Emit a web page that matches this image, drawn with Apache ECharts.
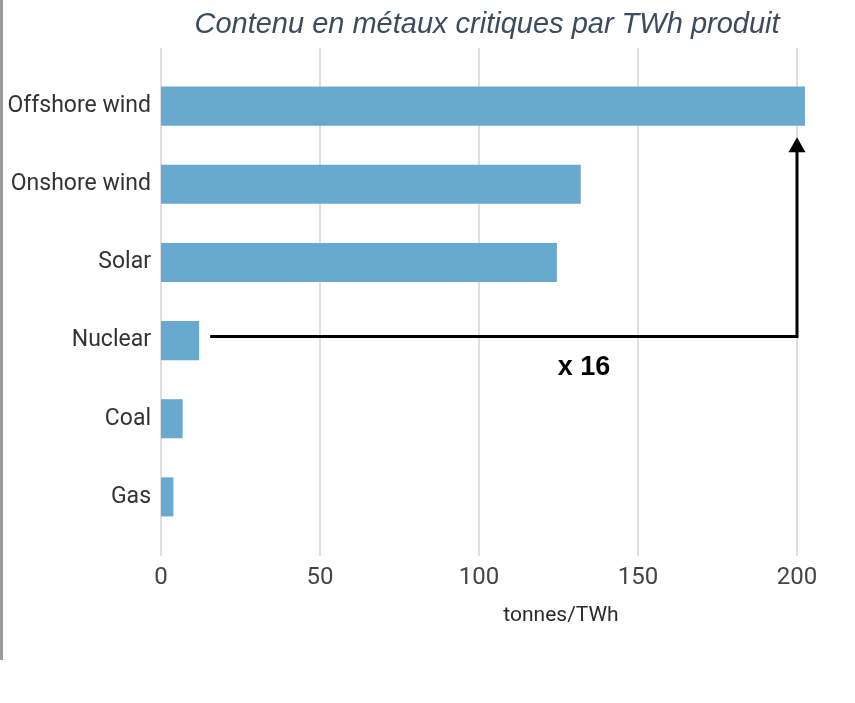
<!DOCTYPE html>
<html>
<head>
<meta charset="utf-8">
<script src="https://cdn.jsdelivr.net/npm/echarts@6/dist/echarts.min.js"></script>
<style>
html,body{margin:0;padding:0;background:#fff;}
#chart{width:855px;height:703px;}
</style>
</head>
<body>
<div id="chart"></div>
<script>
var categories = ['Offshore wind', 'Onshore wind', 'Solar', 'Nuclear', 'Coal', 'Gas'];
var values = [202.5, 132, 124.5, 12, 6.8, 3.9];
var xTicks = [0, 50, 100, 150, 200];
var titleText = 'Contenu en métaux critiques par TWh produit';
var unitText = 'tonnes/TWh';
var arrowFrom = 'Nuclear';
var arrowTo = 'Offshore wind';
var arrowLabel = 'x 16';

var chart = echarts.init(document.getElementById('chart'), null, {renderer: 'canvas'});

var fromIdx = categories.indexOf(arrowFrom);
var toIdx = categories.indexOf(arrowTo);
var xMax = xTicks[xTicks.length - 1];

var option = {
  backgroundColor: '#ffffff',
  animation: false,
  grid: [
    {left: 161, right: 58, top: 48, height: 508},
    {left: 161, right: 58, top: 67, height: 469}
  ],
  xAxis: [
    {
      gridIndex: 0, type: 'value', min: xTicks[0], max: xMax, interval: 50,
      axisLine: {show: false}, axisTick: {show: false},
      splitLine: {show: true, lineStyle: {color: '#d4d4d4', width: 1.5}},
      axisLabel: {fontFamily: 'Roboto', fontSize: 24, color: '#444', margin: 10}
    },
    {
      gridIndex: 1, type: 'value', min: xTicks[0], max: xMax,
      show: false
    }
  ],
  yAxis: [
    {gridIndex: 0, type: 'value', show: false, min: 0, max: 1},
    {
      gridIndex: 1, type: 'category', data: categories, inverse: true,
      axisLine: {show: false}, axisTick: {show: false},
      axisLabel: {fontFamily: 'Roboto', fontSize: 23, color: '#333', margin: 10}
    }
  ],
  graphic: [
    {
      type: 'rect', left: 0, top: 0,
      shape: {x: 0, y: 0, width: 3, height: 660},
      style: {fill: '#9a9a9a'}
    },
    {
      type: 'text', x: 487, y: 25,
      style: {
        text: titleText, textAlign: 'center', textVerticalAlign: 'middle',
        font: 'italic 29px "Liberation Sans", Arial, sans-serif', fill: '#3c4b60'
      }
    },
    {
      type: 'text', x: 561, y: 616,
      style: {
        text: unitText, textAlign: 'center', textVerticalAlign: 'middle',
        font: '21px Roboto, sans-serif', fill: '#2a2a2a'
      }
    }
  ],
  series: [
    {
      type: 'bar', xAxisIndex: 1, yAxisIndex: 1,
      data: values, barWidth: '50%', clip: false,
      itemStyle: {color: '#6aa9cf'},
      silent: true
    },
    {
      type: 'custom', xAxisIndex: 1, yAxisIndex: 1,
      data: [[values[fromIdx], fromIdx, xMax, toIdx]],
      encode: {x: [0, 2], y: [1, 3]},
      silent: true, z: 10, clip: false,
      renderItem: function (params, api) {
        var pStart = api.coord([api.value(0), api.value(1)]);
        var pCorner = api.coord([api.value(2), api.value(1)]);
        var pTarget = api.coord([api.value(2), api.value(3)]);
        var band = api.size([0, 1])[1];
        var y = pCorner[1] - 4;
        var x = pCorner[0];
        var tipY = pTarget[1] + band * 0.4;
        return {
          type: 'group',
          children: [
            {
              type: 'polyline',
              shape: {points: [[pStart[0] + 11, y], [x, y], [x, tipY + 12]]},
              style: {stroke: '#000', lineWidth: 3, fill: null}
            },
            {
              type: 'polygon',
              shape: {points: [[x, tipY], [x - 8.5, tipY + 15], [x + 8.5, tipY + 15]]},
              style: {fill: '#000'}
            },
            {
              type: 'text',
              x: x - 213, y: y + 31,
              style: {
                text: arrowLabel, textAlign: 'center', textVerticalAlign: 'middle',
                font: 'bold 27px "Liberation Sans", Arial, sans-serif', fill: '#000'
              }
            }
          ]
        };
      }
    }
  ]
};
chart.setOption(option);
</script>
</body>
</html>
